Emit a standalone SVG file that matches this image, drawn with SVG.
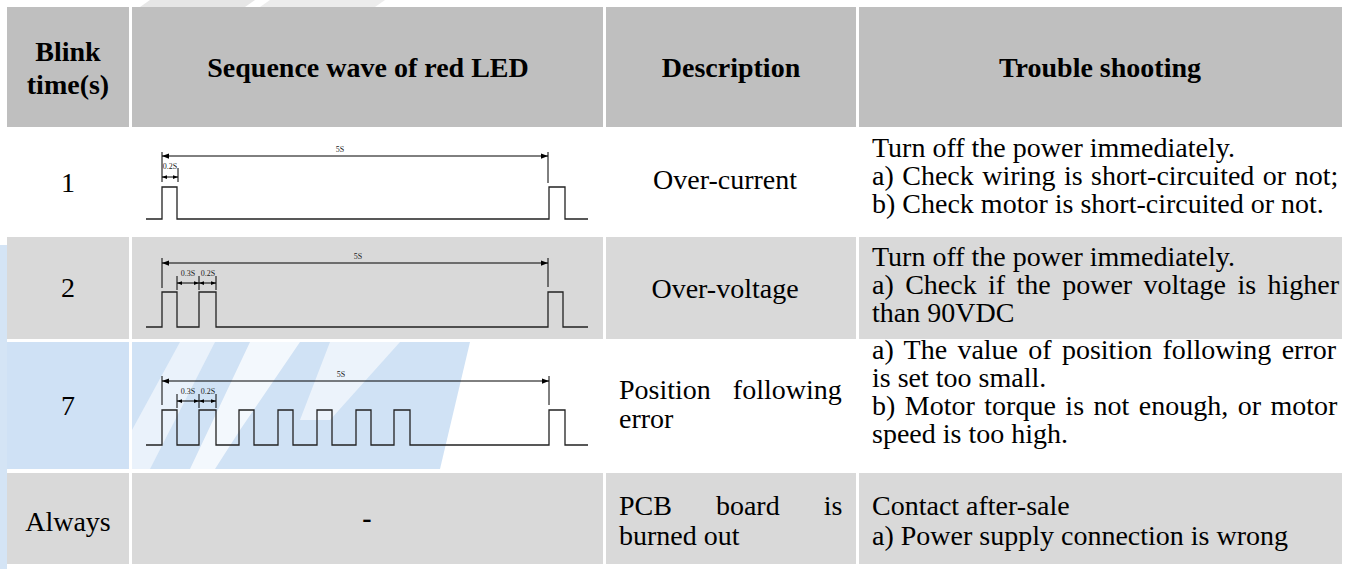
<svg xmlns="http://www.w3.org/2000/svg" width="1347" height="569" viewBox="0 0 1347 569">
<style>
.hd{fill:#bfbfbf}
.gr{fill:#d9d9d9}
.bl{fill:#cfe1f5}
.th{font-family:"Liberation Serif","Times New Roman",serif;font-weight:bold;font-size:28px;fill:#000}
.td{font-family:"Liberation Serif","Times New Roman",serif;font-size:28px;fill:#000}
.sm{font-family:"Liberation Serif","Times New Roman",serif;font-size:8px;fill:#222}
.w{fill:none;stroke:#222;stroke-width:1.3}
.dim{fill:none;stroke:#000;stroke-width:1}
</style>
<defs>
<marker id="ah" viewBox="0 0 8 6" refX="8" refY="3" markerWidth="7" markerHeight="6" markerUnits="userSpaceOnUse" orient="auto-start-reverse">
<path d="M0,0 L8,3 L0,6 z" fill="#000"/>
</marker>
<marker id="as" viewBox="0 0 8 6" refX="8" refY="3" markerWidth="5" markerHeight="4" markerUnits="userSpaceOnUse" orient="auto-start-reverse">
<path d="M0,0 L8,3 L0,6 z" fill="#000"/>
</marker>
</defs>
<rect width="1347" height="569" fill="#fff"/>
<g id="watermark">
<polygon points="150,0 255,0 245,7 140,7" fill="#e6e6e6"/>
<polygon points="270,0 385,0 375,7 260,7" fill="#ececec"/>
<rect x="0" y="245" width="7" height="324" fill="#d4e4f5"/>
</g>
<g id="header">
<rect class="hd" x="7" y="7" width="122" height="120"/>
<rect class="hd" x="132" y="7" width="471" height="120"/>
<rect class="hd" x="606" y="7" width="250" height="120"/>
<rect class="hd" x="859" y="7" width="483" height="120"/>
<text class="th" x="68" y="61" text-anchor="middle">Blink</text>
<text class="th" x="68" y="94" text-anchor="middle">time(s)</text>
<text class="th" x="368" y="77" text-anchor="middle">Sequence wave of red LED</text>
<text class="th" x="731" y="77" text-anchor="middle">Description</text>
<text class="th" x="1100" y="77" text-anchor="middle">Trouble shooting</text>
</g>
<g id="row1">
<text class="td" x="68" y="192" text-anchor="middle">1</text>
<text class="td" x="725" y="189" text-anchor="middle">Over-current</text>
<text class="td" x="872" y="157">Turn off the power immediately.</text>
<text class="td" x="872" y="185" word-spacing="1.5">a) Check wiring is short-circuited or not;</text>
<text class="td" x="872" y="213">b) Check motor is short-circuited or not.</text>
</g>
<g id="row2">
<rect class="gr" x="7" y="237" width="122" height="102"/>
<rect class="gr" x="132" y="237" width="471" height="102"/>
<rect class="gr" x="606" y="237" width="250" height="102"/>
<rect class="gr" x="859" y="237" width="483" height="102"/>
<text class="td" x="68" y="297" text-anchor="middle">2</text>
<text class="td" x="725" y="298" text-anchor="middle">Over-voltage</text>
<text class="td" x="872" y="266">Turn off the power immediately.</text>
<text class="td" x="872" y="294" word-spacing="4.4">a) Check if the power voltage is higher</text>
<text class="td" x="872" y="322">than 90VDC</text>
</g>
<g id="row3">
<rect class="bl" x="7" y="342" width="122" height="127"/>
<polygon points="132,342 470,342 440,469 132,469" fill="#d0e2f5"/>
<polygon points="180,342 215,342 150,469 132,469 132,430" fill="#eaf2fb"/>
<polygon points="250,342 300,342 240,430 215,469 190,469" fill="#ffffff" opacity="0.75"/>
<polygon points="330,342 400,342 330,420 300,420" fill="#ffffff" opacity="0.6"/>
<text class="td" x="68" y="415" text-anchor="middle">7</text>
<text class="td" x="619" y="399" word-spacing="15">Position following</text>
<text class="td" x="619" y="428">error</text>
<text class="td" x="872" y="359" word-spacing="3.3">a) The value of position following error</text>
<text class="td" x="872" y="387">is set too small.</text>
<text class="td" x="872" y="415" word-spacing="2.5">b) Motor torque is not enough, or motor</text>
<text class="td" x="872" y="443">speed is too high.</text>
</g>
<g id="row4">
<rect class="gr" x="7" y="473" width="122" height="91"/>
<rect class="gr" x="132" y="473" width="471" height="91"/>
<rect class="gr" x="606" y="473" width="250" height="91"/>
<rect class="gr" x="859" y="473" width="483" height="91"/>
<text class="td" x="68" y="531" text-anchor="middle">Always</text>
<text class="td" x="367" y="527" text-anchor="middle" font-weight="bold">-</text>
<text class="td" x="619" y="515" word-spacing="37">PCB board is</text>
<text class="td" x="619" y="545">burned out</text>
<text class="td" x="872" y="515">Contact after-sale</text>
<text class="td" x="872" y="545">a) Power supply connection is wrong</text>
</g>
<g id="connectors">
<path class="w" d="M146,219 H162 V187 H177 V219 H549 V187 H565 V219 H588"/>
<path class="dim" d="M162,152 V182 M548,152 V183 M178,168 V182"/>
<line class="dim" x1="162" y1="156" x2="548" y2="156" marker-start="url(#ah)" marker-end="url(#ah)"/>
<line class="dim" x1="162" y1="177" x2="178" y2="177" marker-start="url(#as)" marker-end="url(#as)"/>
<text class="sm" x="340" y="152" text-anchor="middle">5S</text>
<text class="sm" x="170" y="169" text-anchor="middle">0.2S</text>
<path class="w" d="M146,327 H162 V292 H177 V327 H199 V292 H216 V327 H548 V292 H563 V327 H588"/>
<path class="dim" d="M162,258 V288 M548,258 V287 M177,276 V290 M199,276 V290 M216,276 V290"/>
<line class="dim" x1="162" y1="263" x2="548" y2="263" marker-start="url(#ah)" marker-end="url(#ah)"/>
<line class="dim" x1="177" y1="283" x2="199" y2="283" marker-start="url(#as)" marker-end="url(#as)"/>
<line class="dim" x1="199" y1="283" x2="216" y2="283" marker-start="url(#as)" marker-end="url(#as)"/>
<text class="sm" x="358" y="259" text-anchor="middle">5S</text>
<text class="sm" x="188" y="276" text-anchor="middle">0.3S</text>
<text class="sm" x="208" y="276" text-anchor="middle">0.2S</text>
<path class="w" d="M146,445 H162 V410 H177 V445 H199 V410 H216 V445 H239 V410 H254 V445 H278 V410 H293 V445 H317 V410 H332 V445 H356 V410 H371 V445 H394 V410 H410 V445 H549 V410 H565 V445 H588"/>
<path class="dim" d="M162,376 V405 M549,376 V405 M177,394 V408 M199,394 V408 M216,394 V408"/>
<line class="dim" x1="162" y1="381" x2="549" y2="381" marker-start="url(#ah)" marker-end="url(#ah)"/>
<line class="dim" x1="177" y1="401" x2="199" y2="401" marker-start="url(#as)" marker-end="url(#as)"/>
<line class="dim" x1="199" y1="401" x2="216" y2="401" marker-start="url(#as)" marker-end="url(#as)"/>
<text class="sm" x="341" y="377" text-anchor="middle">5S</text>
<text class="sm" x="188" y="394" text-anchor="middle">0.3S</text>
<text class="sm" x="208" y="394" text-anchor="middle">0.2S</text>
</g>
</svg>
